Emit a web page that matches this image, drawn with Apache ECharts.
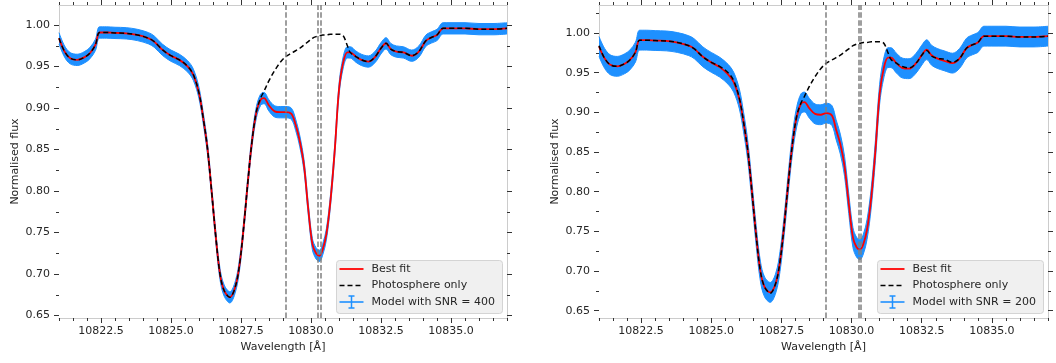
<!DOCTYPE html>
<html>
<head>
<meta charset="utf-8">
<script src="https://cdn.jsdelivr.net/npm/echarts@6/dist/echarts.min.js"></script>
<style>
html,body{margin:0;padding:0;background:#fff;}
#chart{width:1056px;height:363px;}
</style>
</head>
<body>
<div id="chart"></div>
<script>
// ---------------- DATA ----------------
const wavelength = [10821.0, 10821.2, 10821.4, 10821.65, 10821.9, 10822.1, 10822.3, 10822.45, 10822.7, 10823.0,
  10823.4, 10823.8, 10824.2, 10824.4, 10824.7, 10825.0, 10825.3, 10825.6, 10825.8, 10826.0,
  10826.15, 10826.3, 10826.45, 10826.6, 10826.75, 10826.9, 10827.1, 10827.3, 10827.45, 10827.6,
  10827.75, 10827.9, 10828.05, 10828.2, 10828.32, 10828.5, 10828.7, 10828.9, 10829.1, 10829.3,
  10829.45, 10829.6, 10829.75, 10829.9, 10830.05, 10830.18, 10830.3, 10830.42, 10830.55, 10830.7,
  10830.85, 10831.0, 10831.15, 10831.3, 10831.4, 10831.6, 10831.8, 10832.05, 10832.3, 10832.5,
  10832.68, 10832.85, 10833.05, 10833.3, 10833.6, 10833.85, 10834.1, 10834.3, 10834.5, 10834.72,
  10835.0, 10835.5, 10836.0, 10836.5, 10837.0];

const bestFitSNR400 = [0.984, 0.968, 0.960, 0.958, 0.961, 0.966, 0.976, 0.991, 0.991, 0.9905,
  0.990, 0.988, 0.984, 0.980, 0.970, 0.963, 0.958, 0.950, 0.940, 0.918,
  0.888, 0.852, 0.800, 0.745, 0.700, 0.680, 0.672, 0.685, 0.712, 0.758,
  0.813, 0.862, 0.895, 0.910, 0.912, 0.903, 0.896, 0.895, 0.895, 0.893,
  0.880, 0.860, 0.831, 0.779, 0.736, 0.725, 0.722, 0.730, 0.748, 0.790,
  0.850, 0.922, 0.955, 0.967, 0.967, 0.962, 0.958, 0.956, 0.962, 0.972,
  0.978, 0.971, 0.968, 0.967, 0.963, 0.968, 0.981, 0.985, 0.988, 0.996,
  0.996, 0.996, 0.995, 0.995, 0.996];

const bestFitSNR200 = [0.983, 0.968, 0.960, 0.958, 0.961, 0.966, 0.976, 0.991, 0.991, 0.9905,
  0.990, 0.988, 0.984, 0.980, 0.970, 0.963, 0.957, 0.948, 0.938, 0.917,
  0.888, 0.852, 0.800, 0.745, 0.700, 0.680, 0.673, 0.685, 0.712, 0.758,
  0.813, 0.862, 0.895, 0.911, 0.913, 0.905, 0.898, 0.897, 0.899, 0.896,
  0.878, 0.860, 0.832, 0.785, 0.742, 0.730, 0.727, 0.734, 0.752, 0.792,
  0.852, 0.923, 0.956, 0.969, 0.969, 0.962, 0.956, 0.955, 0.962, 0.972,
  0.979, 0.972, 0.968, 0.965, 0.962, 0.968, 0.981, 0.985, 0.988, 0.996,
  0.996, 0.996, 0.995, 0.995, 0.996];

const photosphereOnly = [0.984, 0.968, 0.960, 0.958, 0.961, 0.966, 0.976, 0.991, 0.991, 0.9905,
  0.990, 0.988, 0.984, 0.980, 0.970, 0.963, 0.958, 0.950, 0.940, 0.918,
  0.888, 0.852, 0.800, 0.745, 0.700, 0.680, 0.672, 0.685, 0.712, 0.758,
  0.813, 0.862, 0.896, 0.912, 0.920, 0.933, 0.945, 0.955, 0.962, 0.966,
  0.969, 0.972, 0.976, 0.980, 0.984, 0.986, 0.987, 0.988, 0.988, 0.989,
  0.989, 0.989, 0.987, 0.975, 0.967, 0.962, 0.958, 0.956, 0.962, 0.972,
  0.978, 0.971, 0.968, 0.967, 0.963, 0.968, 0.981, 0.985, 0.988, 0.996,
  0.996, 0.996, 0.995, 0.995, 0.996];

// visible half-spread of the noisy model points (error bars + scatter), per panel
const noiseHalfWidth = [0.0068, 0.0125];
const snrLabels = ['Model with SNR = 400', 'Model with SNR = 200'];
const heLines = [10829.09, 10830.25, 10830.34];
const xMajorTicks = [10822.5, 10825.0, 10827.5, 10830.0, 10832.5, 10835.0];
const yMajorTicks = [0.65, 0.70, 0.75, 0.80, 0.85, 0.90, 0.95, 1.00];
const yMinorTicks = [0.65, 0.675, 0.70, 0.725, 0.75, 0.775, 0.80, 0.825, 0.85, 0.875, 0.90, 0.925, 0.95, 0.975, 1.00, 1.025];
const xRange = [10821, 10837];
const yRanges = [[0.6471, 1.0241], [0.6408, 1.0353]];
const legendLabels = ['Best fit', 'Photosphere only'];

// ---------------- LAYOUT ----------------
const FONT = 'DejaVu Sans';
const panels = [
  {left: 59, width: 448, fit: bestFitSNR400},
  {left: 599, width: 449, fit: bestFitSNR200}
];
const TOP = 5, HEIGHT = 313;
const SPINE = '#cccccc', TICKC = '#333333', TXT = '#262626';
const BLUE = '#1e90ff';
const SMOOTH = 0.35;

const xMinorTicks = [];
for (let v = xRange[0]; v <= xRange[1] + 1e-9; v += 0.5) xMinorTicks.push(+v.toFixed(1));

const grid = [], xAxis = [], yAxis = [], series = [], graphic = [];

panels.forEach((p, gi) => {
  grid.push({left: p.left, top: TOP, width: p.width, height: HEIGHT, containLabel: false});
  const xBase = xAxis.length, yBase = yAxis.length;
  const yr = yRanges[gi];
  const xCommon = {type: 'value', gridIndex: gi, min: xRange[0], max: xRange[1], splitLine: {show: false}};
  xAxis.push(Object.assign({}, xCommon, {
    position: 'bottom',
    name: 'Wavelength [Å]', nameLocation: 'middle', nameGap: 23,
    nameTextStyle: {fontFamily: FONT, fontSize: 11, color: TXT},
    axisLine: {show: true, onZero: false, lineStyle: {color: SPINE, width: 1}},
    axisTick: {show: true, customValues: xMajorTicks, length: 5, lineStyle: {color: TICKC, width: 1}},
    axisLabel: {show: true, customValues: xMajorTicks, margin: 8, fontFamily: FONT, fontSize: 11, color: TXT,
      formatter: v => Number(v).toFixed(1)}
  }));
  xAxis.push(Object.assign({}, xCommon, {
    position: 'bottom',
    axisLine: {show: false, onZero: false},
    axisTick: {show: true, customValues: xMinorTicks, length: 3, lineStyle: {color: TICKC, width: 1}},
    axisLabel: {show: false}
  }));
  xAxis.push(Object.assign({}, xCommon, {
    position: 'top',
    axisLine: {show: true, onZero: false, lineStyle: {color: SPINE, width: 1}},
    axisTick: {show: true, customValues: xMajorTicks, length: 5, lineStyle: {color: TICKC, width: 1}},
    axisLabel: {show: false}
  }));
  xAxis.push(Object.assign({}, xCommon, {
    position: 'top',
    axisLine: {show: false, onZero: false},
    axisTick: {show: true, customValues: xMinorTicks, length: 3, lineStyle: {color: TICKC, width: 1}},
    axisLabel: {show: false}
  }));
  const yCommon = {type: 'value', gridIndex: gi, min: yr[0], max: yr[1], splitLine: {show: false}};
  const yMinorIn = yMinorTicks.filter(v => v >= yr[0] && v <= yr[1]);
  yAxis.push(Object.assign({}, yCommon, {
    position: 'left',
    name: 'Normalised flux', nameLocation: 'middle', nameGap: 38,
    nameTextStyle: {fontFamily: FONT, fontSize: 11, color: TXT},
    axisLine: {show: true, onZero: false, lineStyle: {color: SPINE, width: 1}},
    axisTick: {show: true, customValues: yMajorTicks, length: 5, lineStyle: {color: TICKC, width: 1}},
    axisLabel: {show: true, customValues: yMajorTicks, margin: 9, fontFamily: FONT, fontSize: 11, color: TXT,
      formatter: v => Number(v).toFixed(2)}
  }));
  yAxis.push(Object.assign({}, yCommon, {
    position: 'left',
    axisLine: {show: false, onZero: false},
    axisTick: {show: true, customValues: yMinorIn, length: 3, lineStyle: {color: TICKC, width: 1}},
    axisLabel: {show: false}
  }));
  yAxis.push(Object.assign({}, yCommon, {
    position: 'right',
    axisLine: {show: true, onZero: false, lineStyle: {color: SPINE, width: 1}},
    axisTick: {show: true, customValues: yMajorTicks, length: 5, lineStyle: {color: TICKC, width: 1}},
    axisLabel: {show: false}
  }));
  yAxis.push(Object.assign({}, yCommon, {
    position: 'right',
    axisLine: {show: false, onZero: false},
    axisTick: {show: true, customValues: yMinorIn, length: 3, lineStyle: {color: TICKC, width: 1}},
    axisLabel: {show: false}
  }));

  const hw = noiseHalfWidth[gi];
  // noisy model band: blue area below upper edge, then white area below lower edge
  series.push({
    type: 'line', xAxisIndex: xBase, yAxisIndex: yBase, smooth: SMOOTH,
    symbol: 'none', silent: true, z: 1,
    lineStyle: {color: BLUE, width: 1},
    areaStyle: {color: BLUE, opacity: 1, origin: 'start'},
    data: wavelength.map((w, i) => [w, p.fit[i] + hw])
  });
  series.push({
    type: 'line', xAxisIndex: xBase, yAxisIndex: yBase, smooth: SMOOTH,
    symbol: 'none', silent: true, z: 2,
    lineStyle: {color: BLUE, width: 1},
    areaStyle: {color: '#ffffff', opacity: 1, origin: 'start'},
    data: wavelength.map((w, i) => [w, p.fit[i] - hw])
  });
  // best fit
  series.push({
    type: 'line', xAxisIndex: xBase, yAxisIndex: yBase, smooth: SMOOTH, symbol: 'none', z: 3,
    lineStyle: {color: '#ff0000', width: 1.8},
    data: wavelength.map((w, i) => [w, p.fit[i]])
  });
  // photosphere only
  series.push({
    type: 'line', xAxisIndex: xBase, yAxisIndex: yBase, smooth: SMOOTH, symbol: 'none', z: 4,
    lineStyle: {color: '#000000', width: 1.5, type: [5, 3]},
    data: wavelength.map((w, i) => [w, photosphereOnly[i]])
  });
  // He I triplet reference lines
  series.push({
    type: 'line', xAxisIndex: xBase, yAxisIndex: yBase, data: [], z: 6,
    markLine: {
      silent: true, symbol: 'none', animation: false, z: 6,
      label: {show: false},
      lineStyle: {color: '#808080', width: 1.5, type: [5.5, 2.4], opacity: 1},
      data: heLines.map(v => ({xAxis: v}))
    }
  });

  // legend (graphic elements)
  const bx = p.left + p.width - 171, by = 260;
  graphic.push({type: 'rect', left: bx, top: by, z: 20,
    shape: {width: 166, height: 53, r: 3},
    style: {fill: '#f0f0f0', stroke: '#d4d4d4', lineWidth: 1}});
  const lx0 = bx + 3.5, lx1 = bx + 27.5, tx = bx + 35.5;
  const rows = [by + 9, by + 25.5, by + 42];
  graphic.push({type: 'line', z: 21, shape: {x1: lx0, y1: rows[0], x2: lx1, y2: rows[0]},
    style: {stroke: '#ff0000', lineWidth: 1.8}});
  graphic.push({type: 'line', z: 21, shape: {x1: lx0, y1: rows[1], x2: lx1, y2: rows[1]},
    style: {stroke: '#000000', lineWidth: 1.5, lineDash: [5, 3]}});
  graphic.push({type: 'line', z: 21, shape: {x1: lx0, y1: rows[2], x2: lx1, y2: rows[2]},
    style: {stroke: BLUE, lineWidth: 1.6}});
  const cx = (lx0 + lx1) / 2;
  graphic.push({type: 'line', z: 21, shape: {x1: cx, y1: rows[2] - 6, x2: cx, y2: rows[2] + 6},
    style: {stroke: BLUE, lineWidth: 1.5}});
  graphic.push({type: 'line', z: 21, shape: {x1: cx - 3, y1: rows[2] - 6, x2: cx + 3, y2: rows[2] - 6},
    style: {stroke: BLUE, lineWidth: 1.5}});
  graphic.push({type: 'line', z: 21, shape: {x1: cx - 3, y1: rows[2] + 6, x2: cx + 3, y2: rows[2] + 6},
    style: {stroke: BLUE, lineWidth: 1.5}});
  const labels = [legendLabels[0], legendLabels[1], snrLabels[gi]];
  labels.forEach((t, k) => {
    graphic.push({type: 'text', z: 21, x: tx, y: rows[k],
      style: {text: t, fill: TXT, font: '11px "DejaVu Sans"', verticalAlign: 'middle'}});
  });
});

const chart = echarts.init(document.getElementById('chart'), null, {renderer: 'canvas'});
chart.setOption({
  animation: false,
  backgroundColor: '#ffffff',
  grid, xAxis, yAxis, series, graphic
});
</script>
</body>
</html>
